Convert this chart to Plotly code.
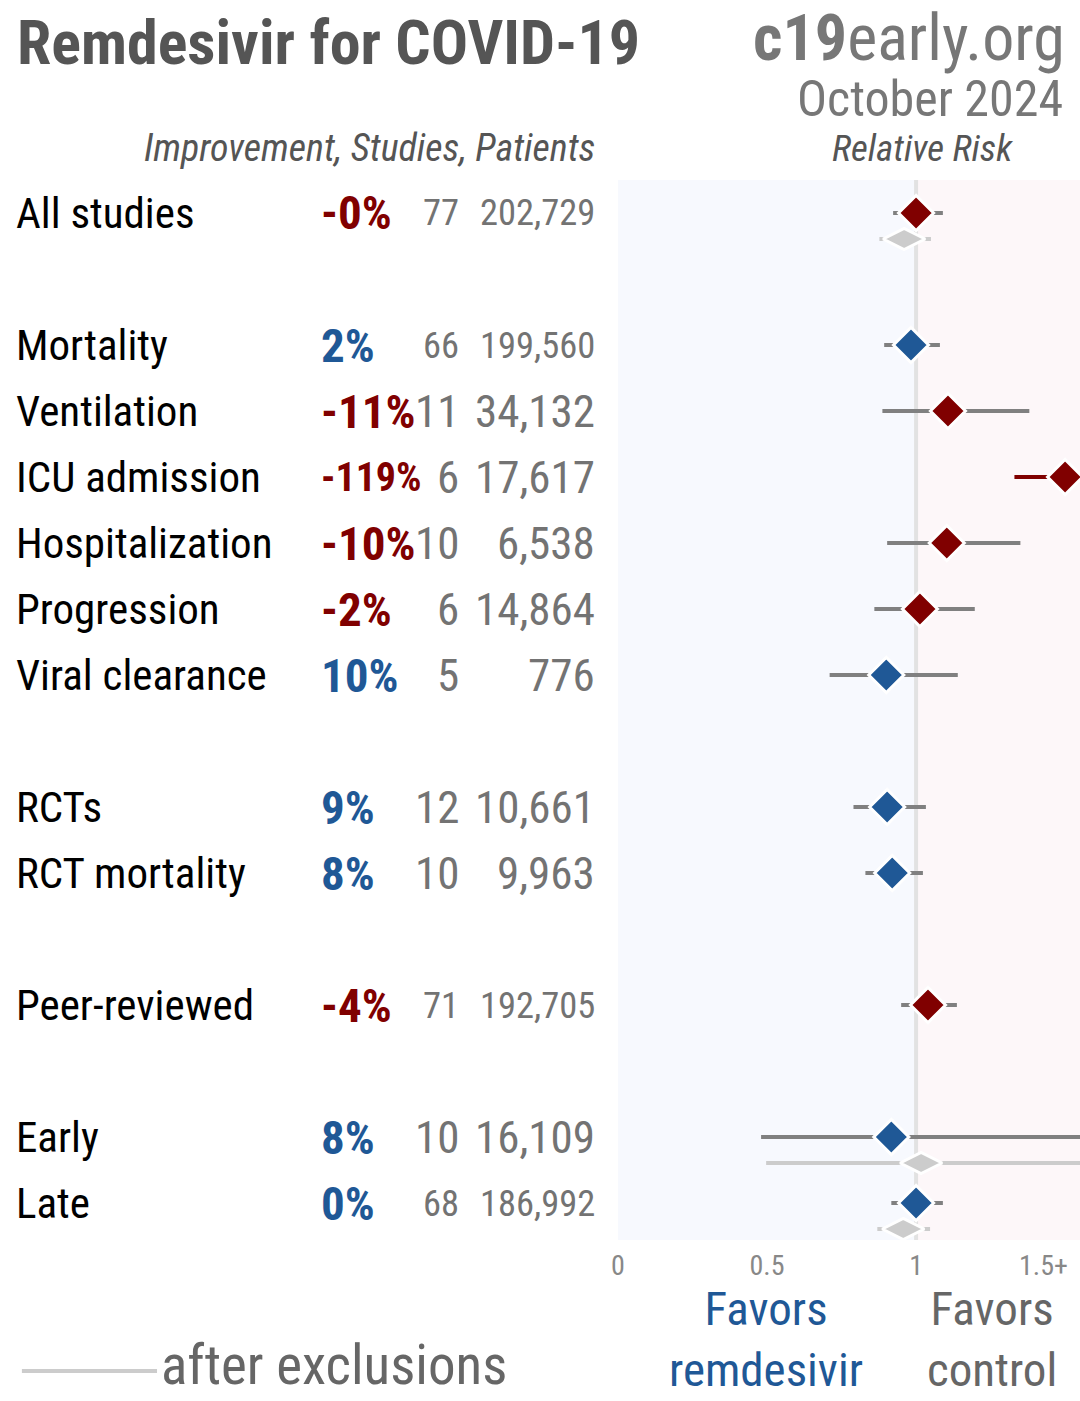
import plotly.graph_objects as go

# ---------------- data ----------------
labels = ["All studies", "Mortality", "Ventilation", "ICU admission", "Hospitalization",
          "Progression", "Viral clearance", "RCTs", "RCT mortality", "Peer-reviewed",
          "Early", "Late"]
slots = [0, 2, 3, 4, 5, 6, 7, 9, 10, 12, 14, 15]
improvement = ["-0%", "2%", "-11%", "-119%", "-10%", "-2%", "10%", "9%", "8%", "-4%", "8%", "0%"]
studies = [77, 66, 11, 6, 10, 6, 5, 12, 10, 71, 10, 68]
patients = [202729, 199560, 34132, 17617, 6538, 14864, 776, 10661, 9963, 192705, 16109, 186992]
rr = [1.00, 0.983, 1.107, 2.19, 1.103, 1.013, 0.90, 0.903, 0.92, 1.04, 0.917, 1.00]
rr_lo = [0.923, 0.893, 0.887, 1.33, 0.903, 0.86, 0.71, 0.79, 0.83, 0.95, 0.48, 0.917]
rr_hi = [1.09, 1.08, 1.38, 3.6, 1.35, 1.197, 1.14, 1.033, 1.023, 1.137, 1.8, 1.09]

# after exclusions
excl_slots = [0, 14, 15]
excl_rr = [0.96, 1.017, 0.957]
excl_lo = [0.877, 0.497, 0.87]
excl_hi = [1.05, 1.8, 1.047]

tick_vals = [0, 0.5, 1]
tick_text = ["0", "0.5", "1"]
CAP = 1.5
cap_label = "1.5+"
XMAX = 1.55

# ---------------- styles ----------------
W, H = 1080, 1401
FONT = "Roboto Condensed, Liberation Sans Narrow, Arial Narrow, DejaVu Sans Condensed, Roboto, sans-serif"
RED = "#800000"
BLUE = "#1f5896"
GRAY_TXT = "#737373"
EXCL_SHIFT = 0.394
LEFT_FIX = -9   # compensate for annotation left padding
RIGHT_FIX = -2


def px(x):
    return x / W


def py(y):
    return 1 - y / H


fig = go.Figure()

# CI lines
for s, r, lo, hi, imp in zip(slots, rr, rr_lo, rr_hi, improvement):
    col = "#808080"
    if r > CAP:
        col = RED if imp.startswith("-") else BLUE
    fig.add_trace(go.Scatter(x=[lo, hi], y=[s, s], mode="lines",
                             line=dict(color=col, width=4), hoverinfo="skip", showlegend=False))

for s, lo, hi in zip(excl_slots, excl_lo, excl_hi):
    fig.add_trace(go.Scatter(x=[lo, hi], y=[s + EXCL_SHIFT, s + EXCL_SHIFT], mode="lines",
                             line=dict(color="#cccccc", width=4), hoverinfo="skip", showlegend=False))

# after-exclusion diamonds
fig.add_trace(go.Scatter(x=[min(v, CAP) for v in excl_rr], y=[s + EXCL_SHIFT for s in excl_slots],
                         mode="markers", cliponaxis=False,
                         marker=dict(symbol="diamond-wide", size=30, color="#cccccc",
                                     line=dict(color="white", width=3)),
                         hoverinfo="skip", showlegend=False))

# main diamonds
fig.add_trace(go.Scatter(x=[min(v, CAP) for v in rr], y=slots, mode="markers", cliponaxis=False,
                         marker=dict(symbol="diamond", size=27,
                                     color=[RED if i.startswith("-") else BLUE for i in improvement],
                                     line=dict(color="white", width=3)),
                         hoverinfo="skip", showlegend=False))

shapes = [
    dict(type="rect", xref="x", yref="y domain", x0=0, x1=1, y0=0, y1=1,
         fillcolor="#f7f9fe", line=dict(width=0), layer="below"),
    dict(type="rect", xref="x", yref="y domain", x0=1, x1=XMAX, y0=0, y1=1,
         fillcolor="#fdf7f9", line=dict(width=0), layer="below"),
    dict(type="line", xref="x", yref="y domain", x0=1, x1=1, y0=0, y1=1,
         line=dict(color="#e2e2e2", width=4), layer="below"),
    dict(type="line", xref="paper", yref="paper", x0=px(15), x1=px(151), y0=py(1371), y1=py(1371),
         line=dict(color="#cccccc", width=4)),
]

ann = []


def add_text(text, x, y, size, color, xanchor="left", yref="paper", xref="paper", **kw):
    shift = LEFT_FIX if xanchor == "left" else (RIGHT_FIX if xanchor == "right" else 0)
    ann.append(dict(text=text, x=x, y=y, xref=xref, yref=yref, xanchor=xanchor, xshift=shift,
                    align=xanchor, yanchor="middle", showarrow=False, borderpad=0,
                    font=dict(family=FONT, size=size, color=color, **kw)))


add_text("<b>Remdesivir for COVID-19</b>", px(18), py(42), 62, "#555555")
add_text("<b>c19</b>early.org", px(1068), py(39), 64, "#777777", xanchor="right")
add_text("October 2024", px(1066), py(99), 50, "#777777", xanchor="right")
add_text("<i>Improvement, Studies, Patients</i>", px(595), py(148), 38, "#555555", xanchor="right")
add_text("<i>Relative Risk</i>", px(921), py(148), 37, "#555555", xanchor="center")

for lab, s, imp, st, pa in zip(labels, slots, improvement, studies, patients):
    add_text(lab, px(17), s, 43, "#000000", yref="y")
    add_text("<b>" + imp + "</b>", px(324), s, 40 if len(imp) > 4 else 47,
             RED if imp.startswith("-") else BLUE, yref="y")
    nsize = 36.5 if pa >= 100000 else 45
    add_text(str(st), px(458), s, nsize, GRAY_TXT, xanchor="right", yref="y")
    add_text(f"{pa:,}", px(595), s, nsize, GRAY_TXT, xanchor="right", yref="y")

# capped tick label
add_text(cap_label, px(1071), py(1265), 28, "#888888", xanchor="right")

add_text("Favors<br>remdesivir", px(764), py(1339), 47, BLUE, xanchor="center")
add_text("Favors<br>control", px(991), py(1339), 47, "#666666", xanchor="center")
add_text("after exclusions", px(163), py(1365), 55, "#666666")

fig.update_layout(
    width=W, height=H, margin=dict(l=0, r=0, t=0, b=0),
    paper_bgcolor="white", plot_bgcolor="rgba(0,0,0,0)",
    shapes=shapes, annotations=ann, showlegend=False,
    xaxis=dict(domain=[px(615), 1], range=[0, XMAX], tickvals=tick_vals, ticktext=tick_text,
               tickfont=dict(family=FONT, size=28, color="#888888"), showgrid=False,
               zeroline=False, showline=False, ticks="", fixedrange=True,
               ticklabelstandoff=6, ticklabeloverflow="allow"),
    yaxis=dict(domain=[py(1240), py(180)], range=[(1240 - 213) / 66, (180 - 213) / 66],
               visible=False, showgrid=False, zeroline=False, fixedrange=True),
)

fig.write_html("out.html", config={"displayModeBar": False},
               post_script="document.body.style.margin='0';document.body.style.overflow='hidden';")
